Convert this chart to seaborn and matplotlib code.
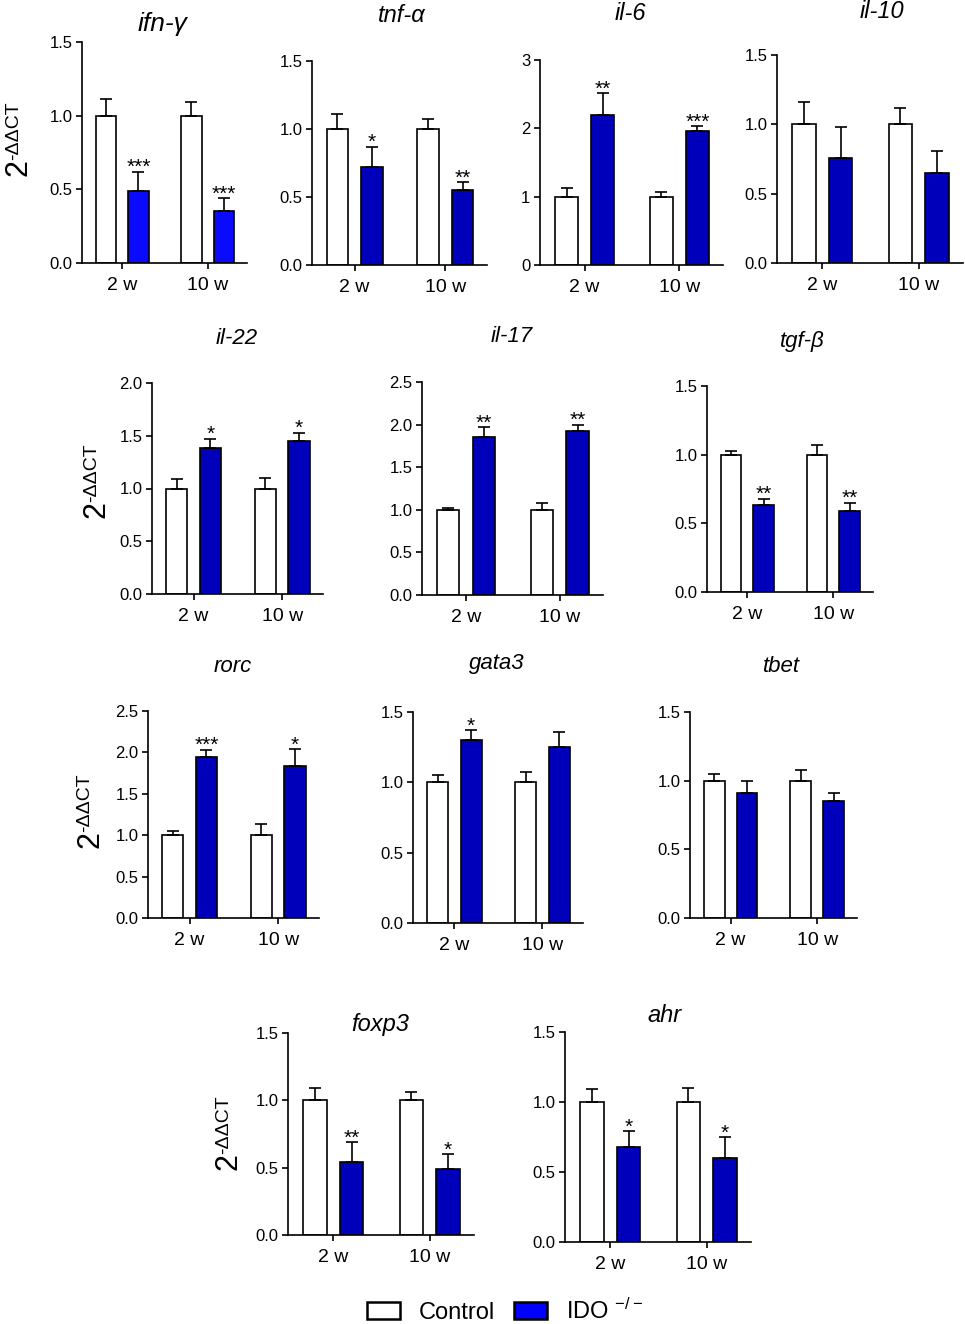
import numpy as np
import pandas as pd
import seaborn as sns
import matplotlib
matplotlib.use("Agg")
import matplotlib.pyplot as plt
from matplotlib.patches import Patch

# values (mean and upper SEM)
genes = ['ifn-γ', 'tnf-α', 'il-6', 'il-10', 'il-22', 'il-17', 'tgf-β',
         'rorc', 'gata3', 'tbet', 'foxp3', 'ahr']
times = ['2 w', '10 w']

ctrl_2w = [1.0, 1.0, 1.0, 1.0, 1.0, 1.0, 1.0, 1.0, 1.0, 1.0, 1.0, 1.0]
ctrl_2w_err = [0.11, 0.11, 0.12, 0.16, 0.09, 0.02, 0.03, 0.05, 0.05, 0.05, 0.09, 0.09]
ido_2w = [0.49, 0.72, 2.20, 0.76, 1.38, 1.85, 0.63, 1.95, 1.30, 0.91, 0.54, 0.68]
ido_2w_err = [0.13, 0.15, 0.31, 0.22, 0.09, 0.12, 0.05, 0.08, 0.07, 0.09, 0.15, 0.11]
ctrl_10w = [1.0, 1.0, 1.0, 1.0, 1.0, 1.0, 1.0, 1.0, 1.0, 1.0, 1.0, 1.0]
ctrl_10w_err = [0.09, 0.07, 0.07, 0.12, 0.10, 0.08, 0.07, 0.14, 0.07, 0.08, 0.06, 0.10]
ido_10w = [0.35, 0.55, 1.96, 0.65, 1.45, 1.92, 0.59, 1.84, 1.25, 0.85, 0.49, 0.60]
ido_10w_err = [0.09, 0.06, 0.07, 0.155, 0.08, 0.08, 0.06, 0.20, 0.11, 0.06, 0.11, 0.15]

stars_2w = ['***', '*', '**', '', '*', '**', '**', '***', '*', '', '**', '*']
stars_10w = ['***', '**', '***', '', '*', '**', '**', '*', '', '', '*', '*']

ymax = [1.5, 1.5, 3, 1.5, 2.0, 2.5, 1.5, 2.5, 1.5, 1.5, 1.5, 1.5]
ystep = [0.5, 0.5, 1, 0.5, 0.5, 0.5, 0.5, 0.5, 0.5, 0.5, 0.5, 0.5]

# layout in pixels: left spine x, right end x, top tick y, zero y
W, H = 965, 1324
rects = [(82, 247, 42, 263), (312, 487, 61, 265), (540, 723, 60, 265), (777, 963, 55, 263),
         (152, 323, 383, 594), (422, 603, 382, 595), (707, 873, 386, 592),
         (148, 319, 711, 918), (413, 583, 712, 923), (690, 857, 712, 918),
         (288, 474, 1033, 1235), (565, 751, 1032, 1242)]
title_pos = [(163, 24), (402, 16), (630, 14), (882, 12), (237, 339), (512, 336), (802, 341),
             (233, 667), (497, 664), (781, 666), (380, 1024), (665, 1016)]
title_size = [19, 17, 17, 17, 16, 16, 16, 16, 16, 16, 17, 17]
ylab_pos = {0: (19, 168), 4: (97, 510), 7: (90, 840), 10: (229, 1162)}

BRIGHT = '#0a0aff'
DARK = '#0000bb'

sns.set_style('ticks')
plt.rcParams['font.family'] = ['Liberation Sans', 'DejaVu Sans']
plt.rcParams['mathtext.default'] = 'regular'
plt.rcParams['text.color'] = 'black'
plt.rcParams['xtick.color'] = 'black'
plt.rcParams['ytick.color'] = 'black'
plt.rcParams['axes.edgecolor'] = 'black'

fig = plt.figure(figsize=(W / 100, H / 100), dpi=100)

for i, g in enumerate(genes):
    x0, x1, yt, yz = rects[i]
    ax = fig.add_axes([x0 / W, 1 - yz / H, (x1 - x0) / W, (yz - yt) / H])
    df = pd.DataFrame({
        'time': ['2 w', '2 w', '10 w', '10 w'],
        'group': ['Control', 'IDO', 'Control', 'IDO'],
        'value': [ctrl_2w[i], ido_2w[i], ctrl_10w[i], ido_10w[i]],
    })
    blue = BRIGHT if i == 0 else DARK
    sns.barplot(data=df, x='time', y='value', hue='group', order=times,
                hue_order=['Control', 'IDO'], palette={'Control': 'white', 'IDO': blue},
                edgecolor='black', linewidth=1.2, width=0.76, gap=0.37,
                errorbar=None, legend=False, saturation=1, ax=ax)
    errs = [[ctrl_2w_err[i], ctrl_10w_err[i]], [ido_2w_err[i], ido_10w_err[i]]]
    stars = [['', ''], [stars_2w[i], stars_10w[i]]]
    bars = list(ax.containers)
    for k, cont in enumerate(bars):
        xs = [b.get_x() + b.get_width() / 2 for b in cont]
        hs = [b.get_height() for b in cont]
        ax.errorbar(xs, hs, yerr=[np.zeros(2), errs[k]], fmt='none', ecolor='black',
                    elinewidth=1.2, capsize=4, capthick=1.2, zorder=1)
        for j in range(2):
            if stars[k][j]:
                ax.annotate(stars[k][j], (xs[j], hs[j] + errs[k][j]), xytext=(0, -1),
                            textcoords='offset points', ha='center', va='baseline',
                            fontsize=15, annotation_clip=False)
    ax.set_xlim(-0.47, 1.46)
    ax.set_ylim(0, ymax[i])
    ticks = np.arange(0, ymax[i] + 1e-9, ystep[i])
    ax.set_yticks(ticks)
    if ystep[i] == 1:
        ax.set_yticklabels([f'{t:.0f}' for t in ticks])
    else:
        ax.set_yticklabels([f'{t:.1f}' for t in ticks])
    ax.set_xlabel('')
    ax.set_ylabel('')
    sns.despine(ax=ax)
    for s in ['left', 'bottom']:
        ax.spines[s].set_linewidth(1.2)
    ax.tick_params(axis='y', labelsize=12, length=4, width=1.2, pad=3)
    ax.tick_params(axis='x', labelsize=14, length=4, width=1.2, pad=6)
    tx, ty = title_pos[i]
    fig.text(tx / W, 1 - ty / H, g, ha='center', va='center',
             fontsize=title_size[i], style='italic')
    if i in ylab_pos:
        cx, cy = ylab_pos[i]
        t2 = fig.text(cx / W, 1 - cy / H, '2', rotation=90, ha='center', va='center',
                      fontsize=22)
        ax.annotate('-ΔΔCT', xy=(0.05, 1.0), xycoords=t2, rotation=90, ha='left',
                    va='bottom', fontsize=14, annotation_clip=False)

handles = [Patch(facecolor='white', edgecolor='black', linewidth=1.8),
           Patch(facecolor='#0000ff', edgecolor='black', linewidth=1.8)]
fig.legend(handles=handles, labels=['Control', 'IDO $^{-/-}$'], loc='center',
           bbox_to_anchor=(505 / W, 1 - 1311 / H), ncol=2, frameon=False, fontsize=17,
           handlelength=1.4, handleheight=0.7, columnspacing=0.8, handletextpad=0.8)

fig.savefig('out.png', dpi=100)
